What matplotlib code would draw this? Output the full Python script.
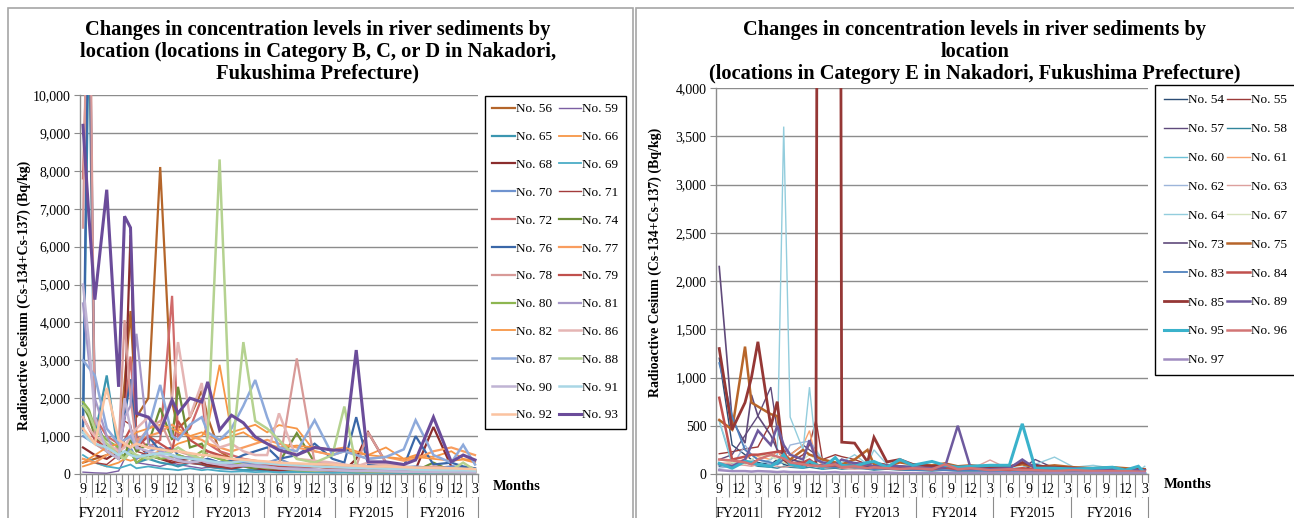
import numpy as np
import matplotlib
matplotlib.use("Agg")
import matplotlib.pyplot as plt
from matplotlib.patches import Rectangle
from matplotlib.ticker import FuncFormatter

plt.rcParams["font.family"] = ["Liberation Serif", "DejaVu Serif"]

W, H = 1294, 518

# month slots: 0 = Sep 2011 ... 66 = Mar 2017
N_MONTHS = 67
fiscal_years = ["FY2011", "FY2012", "FY2013", "FY2014", "FY2015", "FY2016"]
fy_edges = [-0.5, 6.5, 18.5, 30.5, 42.5, 54.5, 66.5]

# sampling months (slot index) for each chart
left_idx = [0, 1, 2, 4, 6, 7, 8, 9, 11, 13, 15, 16, 18, 20, 21, 23, 25, 27, 29, 31,
            33, 36, 39, 42, 44, 46, 48, 51, 54, 56, 59, 62, 64, 66]
right_idx = [0, 2, 4, 5, 6, 8, 9, 10, 11, 13, 14, 15, 16, 18, 19, 21, 23, 24, 26, 28,
             30, 33, 35, 37, 39, 42, 45, 47, 49, 52, 55, 58, 61, 63, 65, 66]

# Category B, C, D locations (Bq/kg)
no56 = [300, 350, 400, 500, 700, 2400, 4300, 1500, 2000, 8100, 1900, 1200, 1500, 2200, 1500, 600, 400, 300, 250, 300,
        200, 250, 200, 150, 200, 150, 120, 150, 100, 120, 100, 90, 100, 80]
no59 = [50, 40, 30, 20, 80, 400, 600, 300, 250, 200, 300, 250, 200, 150, 180, 150, 120, 100, 100, 90,
        80, 70, 80, 60, 60, 50, 50, 60, 40, 50, 40, 40, 30, 30]
no65 = [1200, 12000, 1000, 2600, 500, 800, 600, 300, 400, 300, 250, 200, 300, 250, 200, 150, 150, 100, 120, 80,
        100, 60, 80, 50, 50, 40, 50, 40, 30, 40, 30, 30, 30, 20]
no66 = [200, 250, 300, 200, 300, 400, 350, 400, 500, 600, 700, 800, 900, 1000, 1240, 2880, 1100, 1200, 1300, 1100,
        1290, 1200, 600, 500, 650, 550, 500, 700, 400, 500, 450, 600, 400, 350]
no68 = [700, 600, 500, 400, 600, 1500, 6300, 800, 500, 400, 300, 350, 400, 300, 250, 200, 150, 200, 150, 120,
        100, 150, 100, 80, 90, 400, 1100, 300, 150, 120, 1240, 200, 150, 100]
no69 = [500, 400, 300, 200, 150, 200, 250, 150, 200, 150, 120, 100, 150, 100, 120, 80, 60, 70, 50, 60,
        40, 50, 40, 30, 40, 30, 30, 30, 25, 25, 20, 20, 20, 20]
no70 = [1000, 900, 800, 600, 400, 500, 700, 400, 600, 700, 500, 400, 450, 350, 400, 300, 350, 300, 250, 300,
        400, 200, 300, 250, 200, 250, 200, 250, 180, 200, 150, 200, 180, 150]
no71 = [400, 350, 300, 250, 500, 1400, 1300, 600, 500, 400, 350, 300, 280, 250, 200, 180, 150, 200, 180, 150,
        120, 100, 120, 100, 90, 80, 100, 90, 80, 70, 60, 60, 50, 50]
no72 = [7800, 13000, 1500, 1000, 800, 1500, 3100, 1000, 700, 900, 4700, 1000, 1200, 2000, 800, 600, 500, 400, 350, 300,
        250, 200, 250, 200, 150, 180, 150, 200, 120, 100, 100, 90, 80, 70]
no74 = [1800, 1500, 1000, 600, 400, 500, 900, 600, 800, 1740, 900, 2300, 700, 800, 500, 400, 300, 200, 150, 250,
        300, 1080, 300, 200, 150, 120, 150, 100, 120, 80, 300, 80, 70, 60]
no76 = [1100, 14000, 1500, 700, 600, 1500, 2500, 800, 1000, 600, 700, 500, 400, 350, 400, 300, 350, 500, 600, 700,
        400, 500, 800, 400, 300, 1500, 250, 300, 200, 1000, 250, 300, 200, 150]
no77 = [400, 350, 300, 500, 600, 800, 700, 900, 1000, 1100, 1300, 1200, 1000, 900, 800, 700, 600, 700, 800, 900,
        800, 700, 600, 500, 600, 500, 400, 450, 350, 400, 600, 700, 600, 500]
no78 = [6500, 16000, 800, 600, 700, 4060, 2000, 800, 1200, 1400, 700, 600, 500, 400, 600, 450, 400, 350, 300, 250,
        200, 3050, 300, 250, 200, 200, 1100, 300, 200, 150, 200, 150, 120, 100]
no79 = [1500, 1200, 900, 700, 600, 900, 1200, 700, 1000, 800, 600, 1400, 900, 700, 600, 500, 400, 350, 300, 250,
        200, 150, 200, 150, 130, 150, 120, 100, 90, 80, 100, 80, 60, 50]
no80 = [1900, 1700, 1200, 900, 700, 400, 600, 300, 500, 400, 450, 500, 400, 600, 500, 400, 300, 250, 200, 150,
        150, 100, 80, 100, 80, 70, 60, 60, 50, 50, 50, 40, 40, 40]
no81 = [4500, 3000, 2000, 1000, 400, 1500, 1800, 3700, 800, 600, 500, 400, 450, 350, 300, 300, 250, 200, 250, 200,
        150, 150, 120, 100, 100, 90, 80, 80, 70, 60, 60, 50, 50, 50]
no82 = [300, 400, 500, 700, 800, 900, 1000, 1100, 1200, 1300, 1200, 1100, 1000, 1100, 1000, 900, 1000, 1100, 900, 800,
        700, 750, 700, 650, 700, 600, 500, 450, 400, 450, 400, 350, 380, 300]
no86 = [1500, 1200, 1000, 800, 600, 700, 1000, 1200, 1500, 1200, 2000, 3480, 1500, 2400, 1000, 700, 800, 600, 500, 500,
        1600, 400, 350, 300, 250, 200, 300, 250, 200, 150, 150, 120, 100, 90]
no87 = [3000, 2800, 2600, 1200, 800, 900, 1000, 700, 1200, 2350, 1000, 900, 1300, 1500, 1100, 900, 1200, 1800, 2480, 1500,
        700, 600, 1420, 500, 600, 500, 400, 450, 650, 1420, 500, 300, 770, 250]
no88 = [1800, 1600, 1200, 800, 500, 400, 600, 500, 400, 500, 600, 700, 500, 400, 1000, 8300, 400, 3480, 1400, 1200,
        900, 400, 300, 500, 1780, 200, 150, 200, 150, 100, 120, 100, 300, 100]
no90 = [5000, 3500, 1500, 600, 400, 2000, 1200, 700, 600, 500, 400, 350, 300, 350, 300, 250, 200, 250, 200, 180,
        150, 120, 100, 100, 90, 80, 80, 70, 60, 60, 50, 50, 40, 40]
no91 = [1100, 900, 800, 700, 500, 600, 500, 450, 500, 550, 500, 450, 400, 380, 350, 300, 300, 350, 300, 280,
        250, 230, 200, 180, 170, 160, 150, 140, 130, 120, 110, 100, 100, 90]
no92 = [1200, 1000, 800, 2270, 900, 800, 700, 800, 700, 650, 600, 600, 550, 500, 500, 450, 400, 380, 350, 330,
        300, 280, 260, 250, 230, 220, 200, 200, 180, 170, 160, 150, 140, 130]
no93 = [9200, 6800, 4600, 7500, 2300, 6800, 6500, 1600, 1500, 1100, 1950, 1600, 2000, 1900, 2430, 1160, 1550, 1350, 980, 800,
        630, 500, 700, 630, 630, 3270, 320, 320, 250, 370, 1500, 320, 500, 370]

# Category E locations (Bq/kg)
no54 = [1200, 300, 200, 150, 120, 100, 150, 100, 80, 100, 90, 80, 70, 80, 60, 70, 60, 50, 60, 50,
        40, 50, 40, 40, 50, 40, 30, 40, 30, 30, 30, 30, 20, 20, 20, 20]
no55 = [210, 230, 260, 270, 280, 530, 250, 150, 120, 200, 300, 560, 150, 200, 180, 150, 100, 120, 100, 80,
        90, 70, 80, 60, 70, 60, 50, 60, 50, 50, 40, 40, 40, 30, 30, 30]
no57 = [150, 200, 400, 500, 600, 900, 450, 250, 200, 300, 250, 200, 150, 120, 100, 120, 100, 80, 90, 80,
        70, 60, 70, 60, 60, 50, 50, 60, 150, 60, 50, 40, 50, 40, 30, 30]
no58 = [80, 100, 120, 100, 80, 70, 60, 80, 70, 60, 70, 60, 50, 60, 50, 60, 50, 40, 50, 40,
        40, 30, 40, 30, 30, 30, 30, 40, 30, 25, 25, 20, 20, 20, 20, 20]
no60 = [550, 100, 150, 120, 100, 90, 100, 120, 90, 80, 100, 80, 70, 80, 60, 70, 60, 50, 60, 50,
        50, 40, 50, 40, 40, 40, 30, 40, 30, 30, 30, 25, 25, 20, 20, 20]
no61 = [100, 120, 150, 200, 180, 150, 250, 150, 200, 300, 450, 150, 100, 80, 90, 80, 100, 70, 80, 60,
        70, 50, 60, 50, 50, 40, 40, 50, 40, 40, 30, 30, 30, 30, 25, 25]
no62 = [60, 80, 300, 200, 150, 100, 120, 150, 300, 330, 340, 250, 100, 80, 90, 70, 80, 60, 70, 50,
        60, 40, 50, 40, 40, 30, 30, 40, 30, 30, 25, 25, 20, 20, 20, 20]
no63 = [120, 100, 90, 80, 100, 90, 80, 70, 80, 70, 100, 80, 60, 70, 60, 50, 60, 50, 60, 50,
        50, 40, 50, 40, 50, 145, 50, 40, 30, 30, 30, 25, 25, 20, 20, 20]
no64 = [550, 150, 100, 150, 100, 150, 200, 3600, 590, 250, 900, 250, 150, 100, 120, 200, 100, 250, 100, 80,
        100, 60, 80, 60, 70, 50, 60, 70, 100, 175, 70, 90, 60, 40, 30, 80]
no67 = [150, 120, 100, 150, 200, 180, 150, 120, 100, 150, 200, 150, 120, 100, 110, 90, 100, 80, 90, 70,
        80, 60, 70, 60, 60, 50, 50, 60, 40, 40, 40, 30, 30, 30, 30, 30]
no73 = [2150, 560, 320, 820, 600, 400, 250, 200, 150, 120, 100, 95, 90, 80, 100, 90, 80, 70, 60, 70,
        60, 50, 60, 50, 50, 40, 50, 40, 100, 60, 50, 40, 40, 30, 30, 30]
no75 = [560, 460, 1320, 740, 700, 620, 600, 200, 150, 250, 200, 180, 150, 120, 100, 150, 250, 100, 80, 120,
        100, 90, 110, 80, 90, 70, 80, 100, 70, 90, 70, 60, 70, 60, 50, 50]
no83 = [1150, 600, 250, 200, 150, 120, 100, 150, 120, 100, 90, 85, 80, 70, 80, 70, 60, 50, 60, 50,
        40, 45, 40, 35, 40, 30, 35, 30, 30, 25, 30, 25, 25, 20, 20, 20]
no84 = [790, 150, 180, 200, 200, 220, 230, 240, 100, 120, 150, 100, 80, 90, 70, 80, 100, 70, 60, 80,
        60, 50, 70, 50, 60, 50, 40, 60, 40, 40, 50, 30, 40, 30, 30, 30]
no85 = [1300, 460, 740, 1000, 1370, 490, 750, 150, 100, 80, 100, 120, 30000, 30000, 330, 320, 125, 380, 125, 150,
        100, 80, 90, 70, 80, 60, 70, 120, 80, 70, 60, 50, 60, 40, 50, 40]
no89 = [100, 80, 150, 300, 450, 300, 500, 300, 200, 150, 350, 150, 120, 100, 150, 110, 100, 80, 90, 80,
        70, 60, 70, 500, 60, 50, 60, 150, 60, 50, 60, 50, 40, 40, 40, 40]
no95 = [110, 60, 130, 120, 100, 80, 120, 200, 100, 70, 130, 100, 60, 170, 90, 80, 120, 130, 70, 150,
        90, 130, 90, 70, 80, 90, 90, 520, 60, 60, 50, 60, 70, 40, 80, 10]
no96 = [150, 140, 120, 100, 150, 200, 180, 160, 120, 100, 90, 85, 80, 100, 70, 80, 60, 70, 60, 50,
        60, 50, 100, 50, 60, 40, 50, 40, 40, 30, 40, 30, 30, 30, 25, 25]
no97 = [40, 30, 30, 25, 30, 25, 20, 25, 20, 20, 20, 18, 15, 20, 15, 15, 15, 15, 15, 10,
        10, 10, 10, 10, 10, 10, 10, 10, 10, 10, 10, 10, 10, 10, 10, 10]

left_series = [
    ("No. 56", no56, "#B4652A", 1.6), ("No. 59", no59, "#7B5FA3", 1.0),
    ("No. 65", no65, "#3B96B0", 1.6), ("No. 66", no66, "#F79646", 1.3),
    ("No. 68", no68, "#8B2D2D", 1.6), ("No. 69", no69, "#4BACC6", 1.3),
    ("No. 70", no70, "#6F93CF", 1.6), ("No. 71", no71, "#A33B3B", 1.0),
    ("No. 72", no72, "#D06A6A", 1.6), ("No. 74", no74, "#6E8E38", 1.6),
    ("No. 76", no76, "#3A67A8", 1.6), ("No. 77", no77, "#F99D5F", 1.6),
    ("No. 78", no78, "#D89A98", 1.6), ("No. 79", no79, "#C0504D", 1.6),
    ("No. 80", no80, "#8DB650", 1.6), ("No. 81", no81, "#A698C8", 1.6),
    ("No. 82", no82, "#F79646", 1.3), ("No. 86", no86, "#E5B5B4", 1.8),
    ("No. 87", no87, "#8EAADB", 1.8), ("No. 88", no88, "#B5D290", 1.8),
    ("No. 90", no90, "#C0B4D4", 1.8), ("No. 91", no91, "#A9D6E5", 1.8),
    ("No. 92", no92, "#FBC3A0", 1.8), ("No. 93", no93, "#6B4C9A", 2.2),
]

right_series = [
    ("No. 54", no54, "#2C4D75", 1.0), ("No. 55", no55, "#9B3A38", 1.0),
    ("No. 57", no57, "#5F4A7B", 1.0), ("No. 58", no58, "#31859C", 1.0),
    ("No. 60", no60, "#6CC0D6", 1.0), ("No. 61", no61, "#F9A36E", 1.0),
    ("No. 62", no62, "#9DB5DA", 1.0), ("No. 63", no63, "#DCA09E", 1.0),
    ("No. 64", no64, "#93CDDD", 1.0), ("No. 67", no67, "#D7E4BD", 1.0),
    ("No. 73", no73, "#604A7B", 1.2), ("No. 75", no75, "#B7652A", 1.8),
    ("No. 83", no83, "#4F81BD", 1.3), ("No. 84", no84, "#C0504D", 1.8),
    ("No. 85", no85, "#953735", 2.0), ("No. 89", no89, "#6E5A9E", 1.8),
    ("No. 95", no95, "#3AB2CB", 2.2), ("No. 96", no96, "#D27575", 1.8),
    ("No. 97", no97, "#A08CC0", 1.8),
]

GREY = "#8C8C8C"


def px_axes(fig, x0, y0, x1, y1):
    return fig.add_axes([x0 / W, 1 - y1 / H, (x1 - x0) / W, (y1 - y0) / H])


def draw_panel(ax, idx, series, ymax, ystep, legend_xy, labelspacing, borderpad, colspace):
    handles = []
    for name, vals, color, lw in series:
        h, = ax.plot(idx, vals, color=color, lw=lw, label=name, solid_joinstyle="miter")
        handles.append(h)

    ax.set_xlim(-0.5, N_MONTHS - 0.5)
    ax.set_ylim(0, ymax)
    ax.set_yticks(np.arange(0, ymax + 1, ystep))
    ax.yaxis.set_major_formatter(FuncFormatter(lambda v, p: f"{int(v):,}"))
    ax.yaxis.grid(True, color=GREY, lw=1)
    ax.set_axisbelow(True)
    for s in ("top", "right"):
        ax.spines[s].set_visible(False)
    for s in ("left", "bottom"):
        ax.spines[s].set_color(GREY)
        ax.spines[s].set_linewidth(1)
    ax.tick_params(axis="y", length=4, color=GREY, labelsize=10, pad=3)

    # monthly category boundaries as long tick marks
    ax.set_xticks(np.arange(-0.5, N_MONTHS, 1))
    ax.tick_params(axis="x", length=16.5, width=0.8, color=GREY, labelbottom=False)

    xt = ax.get_xaxis_transform()
    for i in range(N_MONTHS):
        m = (8 + i) % 12 + 1
        if m % 3 == 0:
            ax.annotate(str(m), xy=(i, 0), xycoords=xt, xytext=(0, -11.5),
                        textcoords="offset points", ha="center", va="center", fontsize=10,
                        bbox=dict(fc="white", ec="none", pad=0.6), annotation_clip=False)
    for k, fy in enumerate(fiscal_years):
        ax.plot([fy_edges[k], fy_edges[k]], [0, -0.3], transform=xt, color=GREY, lw=0.8, clip_on=False)
        ax.annotate(fy, xy=((fy_edges[k] + fy_edges[k + 1]) / 2, 0), xycoords=xt, xytext=(0, -28.5),
                    textcoords="offset points", ha="center", va="center", fontsize=10,
                    annotation_clip=False)
    ax.plot([fy_edges[-1]] * 2, [0, -0.3], transform=xt, color=GREY, lw=0.8, clip_on=False)

    order = handles[0::2] + handles[1::2]
    leg = ax.figure.legend(order, [h.get_label() for h in order], ncol=2, loc="upper left",
                           bbox_to_anchor=legend_xy, bbox_transform=ax.figure.transFigure,
                           fontsize=9.5, frameon=True, fancybox=False, framealpha=1,
                           edgecolor="black", handlelength=1.7, handletextpad=0.1,
                           columnspacing=colspace, labelspacing=labelspacing, borderpad=borderpad,
                           borderaxespad=0, handleheight=0.7)
    leg.get_frame().set_linewidth(1)
    return ax


fig = plt.figure(figsize=(W / 100, H / 100), dpi=100)

# panel frames
fig.patches.append(Rectangle((8 / W, -0.1), 625 / W, 1.1 - 8 / H, transform=fig.transFigure,
                             fill=False, ec="#A6A6A6", lw=1.2))
fig.patches.append(Rectangle((636 / W, -0.1), 700 / W, 1.1 - 8 / H, transform=fig.transFigure,
                             fill=False, ec="#A6A6A6", lw=1.2))

ax1 = px_axes(fig, 80, 95, 478, 474)
draw_panel(ax1, left_idx, left_series, 10000, 1000, (485 / W, 1 - 96 / H), 1.18, 0.55, 0.5)

ax2 = px_axes(fig, 716, 88, 1148, 474)
draw_panel(ax2, right_idx, right_series, 4000, 500, (1155 / W, 1 - 85 / H), 1.26, 0.7, 0.25)

fig.text(318 / W, 1 - 52 / H,
         "Changes in concentration levels in river sediments by\n"
         "location (locations in Category B, C, or D in Nakadori,\n"
         "Fukushima Prefecture)",
         ha="center", va="center", fontsize=14.8, fontweight="bold", linespacing=1.12)
fig.text(975 / W, 1 - 52 / H,
         "Changes in concentration levels in river sediments by\n"
         "location\n"
         "(locations in Category E in Nakadori, Fukushima Prefecture)",
         ha="center", va="center", fontsize=14.7, fontweight="bold", linespacing=1.15)

ylab = "Radioactive Cesium (Cs-134+Cs-137) (Bq/kg)"
fig.text(24 / W, 1 - 295 / H, ylab, rotation=90, ha="center", va="center", fontsize=10, fontweight="bold")
fig.text(655 / W, 1 - 262 / H, ylab, rotation=90, ha="center", va="center", fontsize=10, fontweight="bold")

fig.text(517 / W, 1 - 487 / H, "Months", ha="center", va="center", fontsize=10.5, fontweight="bold")
fig.text(1188 / W, 1 - 484 / H, "Months", ha="center", va="center", fontsize=10.5, fontweight="bold")

fig.savefig("out.png", dpi=100)
